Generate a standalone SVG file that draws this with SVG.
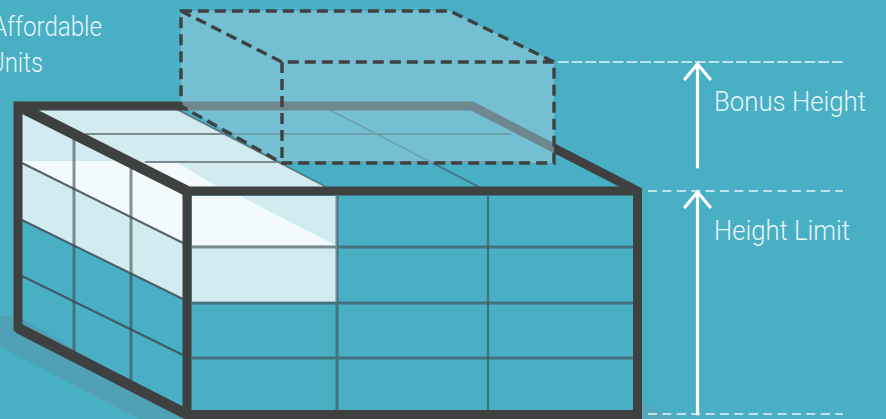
<svg xmlns="http://www.w3.org/2000/svg" width="886" height="419" viewBox="0 0 886 419">
<style>
.lbl{font-family:"Roboto","Liberation Sans",sans-serif;font-weight:300;font-size:28px;fill:#e6f5f8}
.light{fill:#d2ebf1}
.bright{fill:#f3fbfd}
.grid{fill:none;stroke:#3f4a4e;stroke-opacity:.6;stroke-width:3}
.diag{fill:none;stroke:#3f4a4e;stroke-opacity:.85;stroke-width:2}
.thin{fill:none;stroke:#3f4a4e;stroke-opacity:.6;stroke-width:1.8}
.frame{fill:none;stroke:#3f4040;stroke-width:9;stroke-linejoin:miter;stroke-miterlimit:6}
.frame-diag{fill:none;stroke:#3f4040;stroke-width:10.500}
.dash{fill:none;stroke:#3f4040;stroke-width:3.4;stroke-dasharray:11 6}
.guide{fill:none;stroke:#e6f5f8;stroke-width:1.3}
.arrow{fill:none;stroke:#fff;stroke-width:3.2;stroke-linecap:round;stroke-linejoin:miter}
</style>
<rect width="886" height="419" fill="#49afc5"/>
<g id="shadow">
<polygon points="0,316 18,316 192,419 140,419 0,347" fill="#51a1b6"/>
<polygon points="642,402 676,419 642,419" fill="#55a7ba"/>
</g>
<g id="building">
<polygon class="light" points="38,110 178,110 326,187 187,187"/>
<polygon class="bright" points="145,163 178,163 218,187 187,187"/>
<polygon class="light" points="22,112 183,195 183,299 22,220"/>
<polygon class="bright" points="22,161 125,161 183,192 183,243 22,163"/>
<polygon class="light" points="192,196 337,196 337,302 192,302"/>
<polygon class="bright" points="192,196 240,196 335,245 192,245"/>
<path class="thin" d="M85,134H511M145,162H530M178,110L326,187M330,110L479,187"/>
<path class="grid" d="M74,134V358M131,162V386"/>
<path class="diag" d="M22,163L183,243M22,220L183,299M22,276L183,355"/>
<path class="grid" d="M192,247H633M192,303H633M192,358H633M337,196V410"/>
<path class="thin" d="M488,196V410" style="stroke-width:2.2"/>
<path class="frame" d="M18,106H472L637.500,191V414.500H187L18,328Z"/>
<path class="frame" d="M187,191H637.500M187,191V414.500"/>
<path class="frame-diag" d="M18,106L187,191M18,328L187,414.500"/>
</g>
<g id="bonus-volume">
<polygon points="181,11 450,11 554,62 554,163 282,163 181,106" fill="#9fcfdf" fill-opacity=".5"/>
<path class="dash" d="M554,62L450,11H181V106L282,163H554V62H282L181,11M282,62V163"/>
</g>
<g id="connectors">
<path class="guide" stroke-dasharray="10.7 3" d="M558,62H843"/>
<path class="guide" stroke-dasharray="9 5.4" d="M648,191H843"/>
<path class="guide" stroke-dasharray="9 5.4" d="M648,414H843" stroke-width="1.6"/>
<path class="arrow" d="M697.500,167V64M685,79L697.500,64L710,79"/>
<path class="arrow" d="M697.500,414V192M685,207L697.500,192L710,207"/>
</g>
<g id="labels">
<text class="lbl" x="-8" y="36" textLength="110" lengthAdjust="spacingAndGlyphs">Affordable</text>
<text class="lbl" x="-11" y="72" textLength="54" lengthAdjust="spacingAndGlyphs">Units</text>
<text class="lbl" x="714" y="110.500" textLength="152" lengthAdjust="spacingAndGlyphs">Bonus Height</text>
<text class="lbl" x="714" y="240" textLength="136" lengthAdjust="spacingAndGlyphs">Height Limit</text>
</g>
</svg>
